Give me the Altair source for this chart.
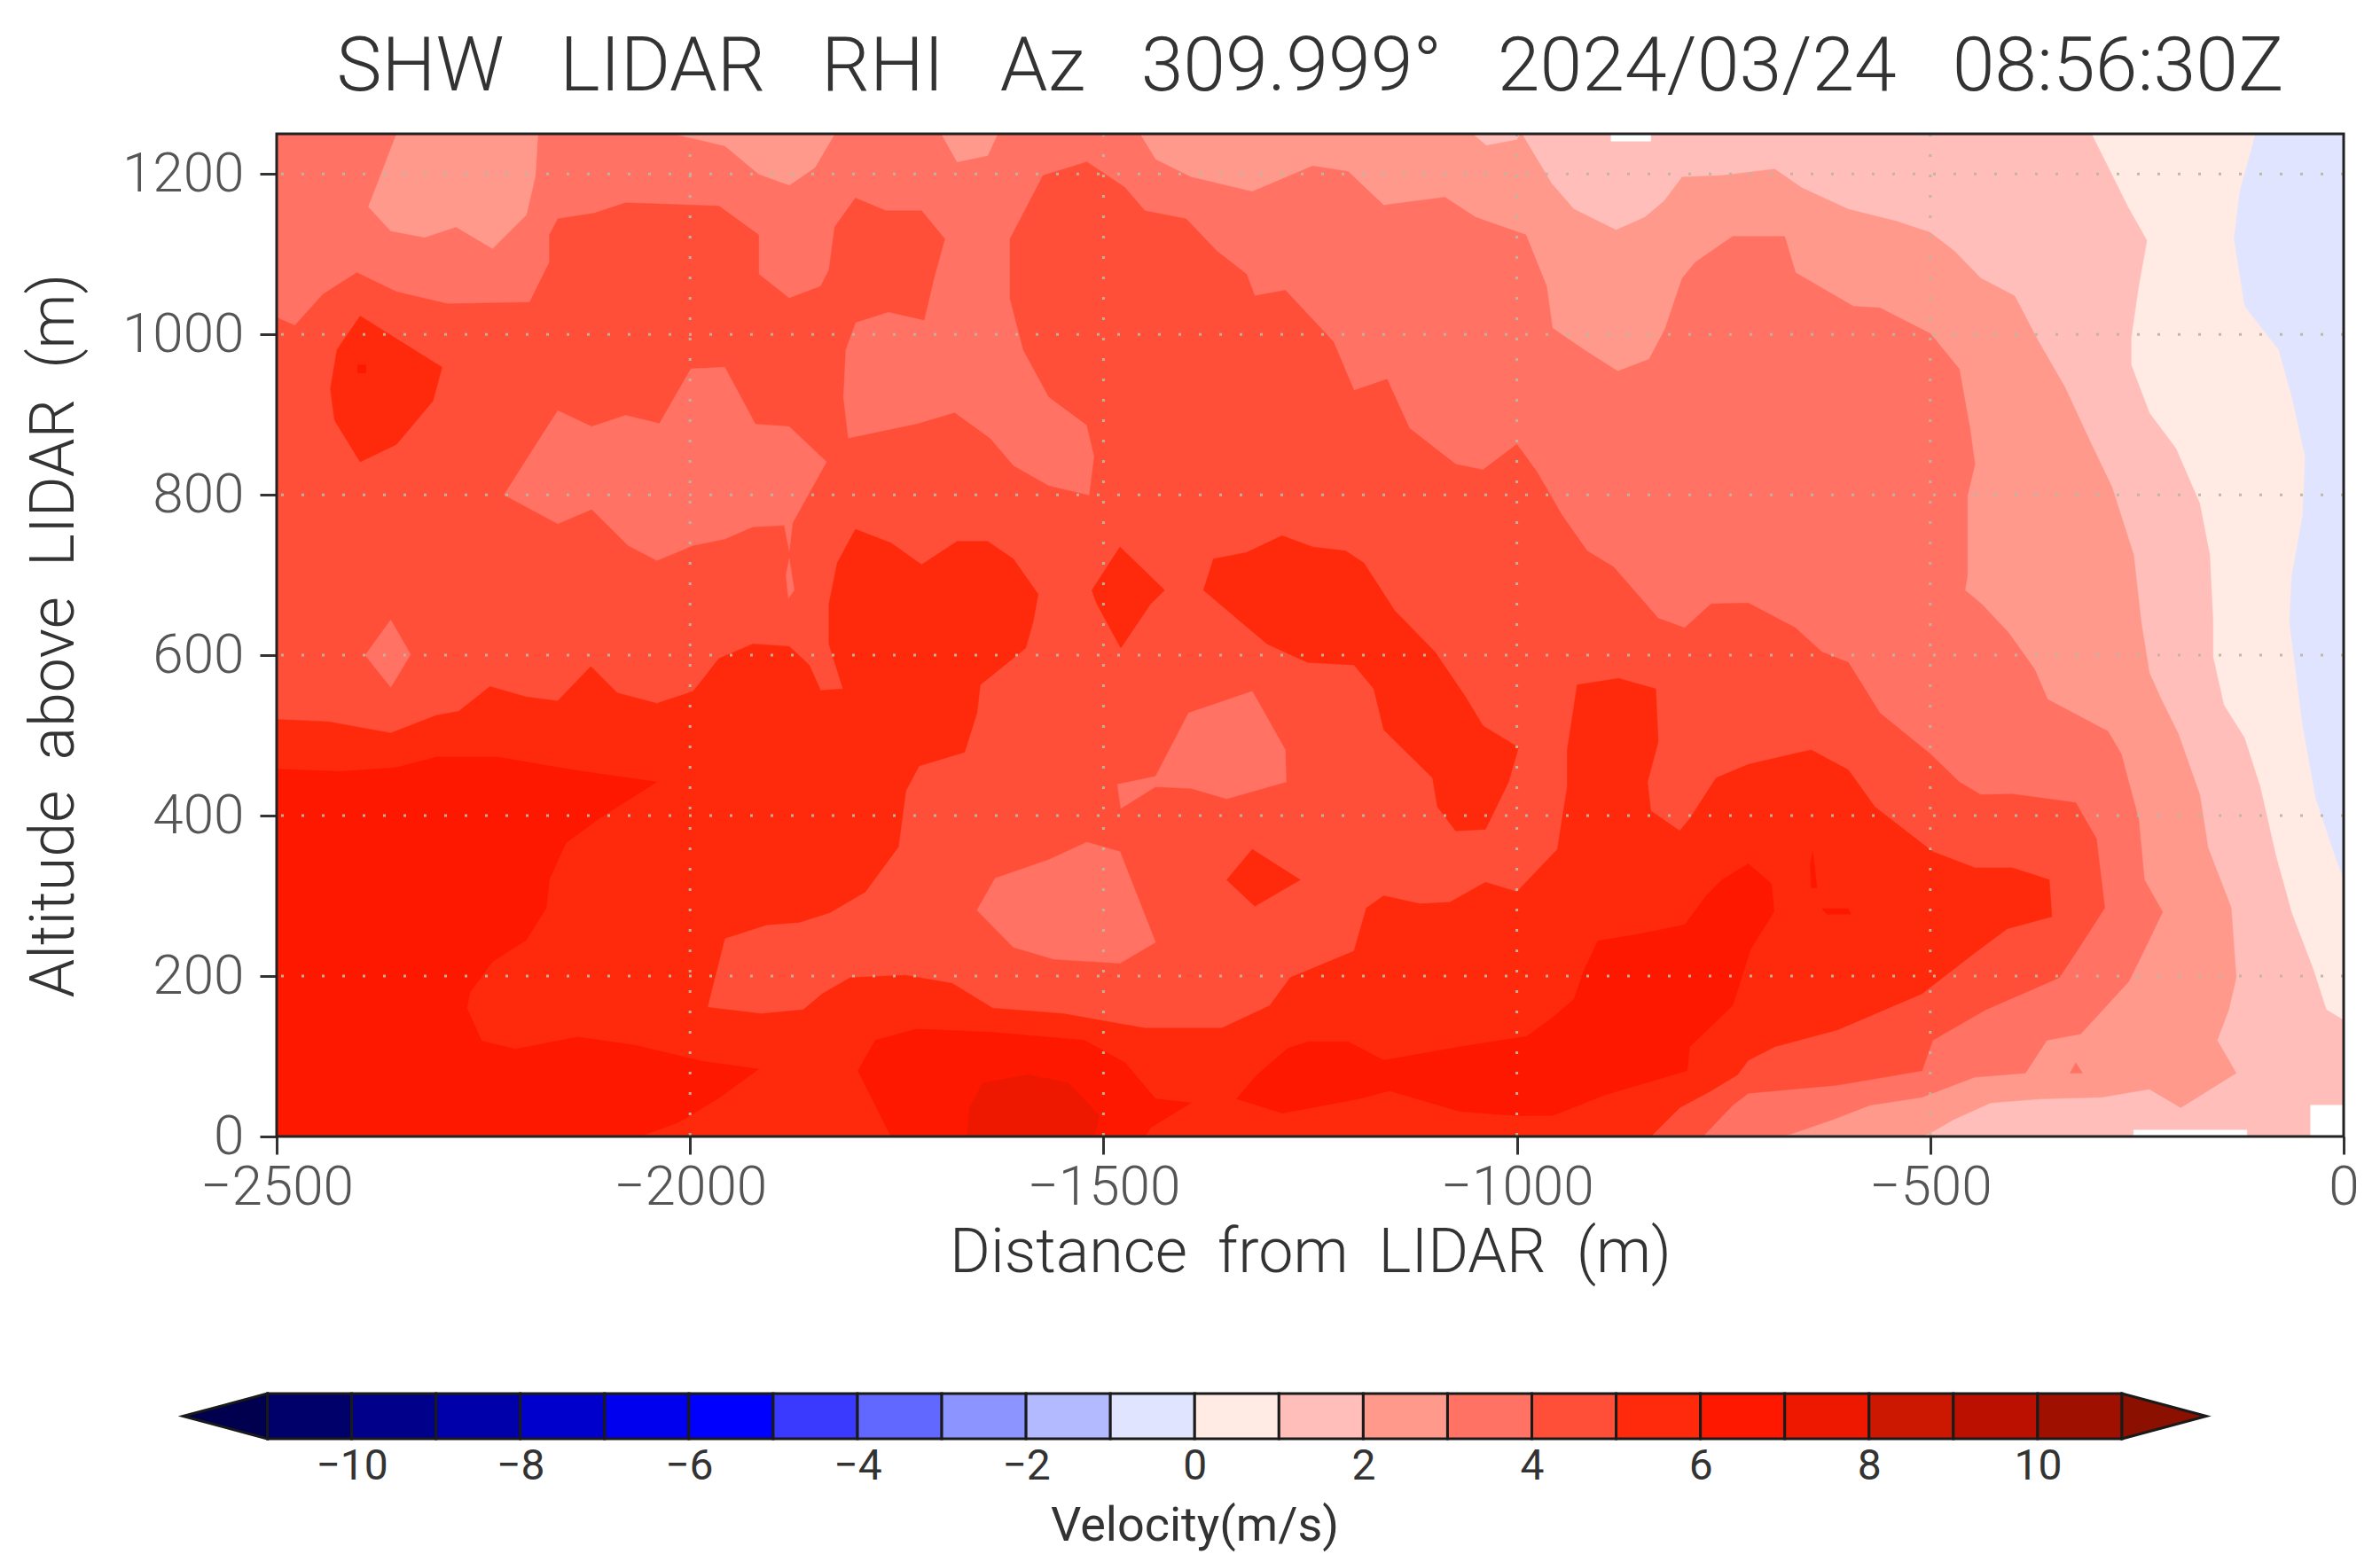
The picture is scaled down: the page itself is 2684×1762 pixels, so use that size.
import altair as alt
import pandas as pd

GAP = "\u00a0 \u00a0"
TITLE = GAP.join(["SHW", "LIDAR", "RHI", "Az", "309.999\u00b0", "2024/03/24", "08:56:30Z"])
X_TITLE = "\u00a0 ".join(["Distance", "from", "LIDAR", "(m)"])
Y_TITLE = "\u00a0 ".join(["Altitude", "above", "LIDAR", "(m)"])
FONT = "Roboto"
TEXT_DARK = "#333333"
TEXT_MID = "#555555"

# colour for each 1 m/s class, from -11..-10 to 10..11
BAND_COLORS = ["#00006A", "#00008A", "#0000AA", "#0000CC", "#0000EE", "#0000FF",
               "#3A3AFF", "#6068FF", "#8C94FF", "#B4BAFF", "#E0E4FF",
               "#FFEBE4", "#FFBEB9", "#FF998C", "#FF7264", "#FF4F38",
               "#FF2A0C", "#FF1800", "#EE1800", "#CC1800", "#BB1000", "#A01000"]
BAND_STARTS = list(range(-11, 11))
ARROW_LEFT = [(-12, 0.5), (-11, 1), (-11, 0)]
ARROW_RIGHT = [(12, 0.5), (11, 1), (11, 0)]
C_N1, C_0, C_1, C_2, C_3, C_4, C_5, C_6, C_7 = ("#E0E4FF", "#FFEBE4", "#FFBEB9", "#FF998C",
                                               "#FF7264", "#FF4F38", "#FF2A0C", "#FF1800", "#EE1800")

# contour outlines as (distance m, altitude m)
FULL = [(-2500, 0), (0, 0), (0, 1250), (-2500, 1250)]
V0 = [(-107, 1250), (-126, 1178), (-133, 1119), (-120, 1035), (-79, 981), (-63, 922), (-47, 848),
      (-50, 774), (-63, 700), (-66, 642), (-50, 512), (-34, 421), (-11, 350), (0, 320), (0, 0),
      (-2500, 0), (-2500, 1250)]
V1 = [(-305, 1250), (-261, 1159), (-238, 1117), (-248, 1060), (-257, 996), (-257, 962), (-235, 902),
      (-203, 858), (-174, 789), (-162, 725), (-158, 642), (-158, 598), (-145, 538), (-120, 497),
      (-101, 436), (-82, 350), (-63, 279), (-37, 209), (-21, 158), (0, 145), (0, 0), (-2500, 0),
      (-2500, 1250)]
V2 = [(-994, 1250), (-958, 1188), (-931, 1156), (-880, 1130), (-845, 1146), (-822, 1166), (-800, 1196),
      (-752, 1198), (-688, 1206), (-656, 1183), (-599, 1156), (-541, 1141), (-500, 1127), (-471, 1104),
      (-439, 1070), (-398, 1048), (-369, 991), (-337, 934), (-312, 878), (-280, 809), (-254, 725),
      (-245, 642), (-235, 578), (-222, 548), (-200, 502), (-174, 426), (-164, 360), (-136, 285),
      (-130, 198), (-139, 158), (-153, 120), (-130, 79), (-197, 36), (-235, 59), (-293, 49), (-366, 47),
      (-427, 42), (-472, 21), (-497, 6), (-510, 0), (-2500, 0), (-2500, 1250)]
V2_TOP_SPOT = [(-1053, 1250), (-1037, 1236), (-1000, 1243), (-996, 1250)]
V3 = [(-1456, 1250), (-1437, 1218), (-1394, 1196), (-1320, 1178), (-1247, 1210), (-1204, 1203),
      (-1161, 1161), (-1087, 1171), (-1050, 1146), (-989, 1124), (-964, 1060), (-957, 1008), (-919, 981),
      (-878, 954), (-840, 969), (-821, 1006), (-800, 1070), (-784, 1090), (-739, 1122), (-676, 1122),
      (-663, 1077), (-593, 1035), (-561, 1033), (-500, 1001), (-465, 957), (-452, 883), (-446, 838),
      (-455, 799), (-455, 700), (-458, 681), (-438, 664), (-406, 629), (-374, 583), (-358, 545),
      (-285, 505), (-269, 477), (-248, 396), (-241, 320), (-219, 280), (-238, 239), (-260, 193),
      (-318, 128), (-359, 120), (-385, 79), (-446, 74), (-510, 49), (-573, 39), (-618, 21), (-669, 3),
      (-680, 0), (-2500, 0), (-2500, 1250)]
V3_SPECK = [(-331, 79), (-324, 92), (-316, 79)]
ISLE2_A = [(-2355, 1250), (-2389, 1159), (-2362, 1129), (-2321, 1121), (-2283, 1134), (-2239, 1107),
           (-2198, 1149), (-2187, 1198), (-2184, 1250)]
ISLE2_B = [(-2020, 1250), (-1958, 1235), (-1917, 1200), (-1880, 1186), (-1849, 1208), (-1825, 1250)]
ISLE2_C = [(-1696, 1250), (-1677, 1215), (-1640, 1223), (-1628, 1250)]
V4 = [(-2500, 1021), (-2478, 1011), (-2444, 1050), (-2403, 1077), (-2355, 1053), (-2293, 1038),
      (-2194, 1040), (-2170, 1090), (-2170, 1124), (-2160, 1144), (-2116, 1151), (-2078, 1164),
      (-1965, 1160), (-1917, 1124), (-1917, 1075), (-1880, 1045), (-1842, 1060), (-1832, 1080),
      (-1825, 1134), (-1800, 1170), (-1763, 1154), (-1720, 1154), (-1692, 1119), (-1705, 1070),
      (-1717, 1018), (-1760, 1028), (-1800, 1015), (-1812, 981), (-1815, 922), (-1809, 870), (-1726, 888),
      (-1680, 902), (-1637, 870), (-1609, 836), (-1566, 811), (-1517, 799), (-1511, 848), (-1520, 887),
      (-1566, 922), (-1597, 981), (-1613, 1045), (-1613, 1119), (-1573, 1198), (-1520, 1215),
      (-1474, 1183), (-1450, 1154), (-1400, 1144), (-1363, 1104), (-1327, 1075), (-1317, 1048),
      (-1280, 1055), (-1222, 991), (-1197, 930), (-1157, 944), (-1130, 883), (-1074, 838), (-1041, 831),
      (-1000, 863), (-976, 829), (-945, 774), (-915, 730), (-883, 710), (-829, 646), (-797, 634),
      (-765, 664), (-720, 665), (-663, 634), (-631, 604), (-599, 591), (-561, 528), (-500, 477),
      (-465, 442), (-439, 426), (-401, 427), (-324, 416), (-299, 371), (-289, 285), (-324, 229),
      (-344, 198), (-433, 158), (-497, 120), (-510, 82), (-612, 64), (-720, 54), (-739, 39), (-775, 0),
      (-2500, 0)]
ISLE3_A = [(-2225, 800), (-2160, 905), (-2119, 885), (-2078, 899), (-2037, 889), (-1999, 957), (-1958, 959),
           (-1921, 888), (-1880, 885), (-1835, 841), (-1876, 765), (-1880, 730), (-1886, 762), (-1924, 760),
           (-1958, 745), (-1996, 737), (-2040, 718), (-2075, 737), (-2119, 782), (-2160, 764)]
ISLE3_SLIVER = [(-1884, 700), (-1880, 720), (-1874, 681), (-1881, 671)]
ISLE3_DIAMOND = [(-2393, 600), (-2362, 644), (-2338, 601), (-2362, 560)]
ISLE3_C = [(-1653, 282), (-1631, 322), (-1566, 345), (-1520, 367), (-1480, 355), (-1437, 242), (-1480, 216),
           (-1560, 221), (-1609, 236)]
ISLE3_D = [(-1483, 439), (-1437, 449), (-1397, 528), (-1320, 555), (-1280, 482), (-1279, 442), (-1351, 421),
           (-1394, 434), (-1437, 436), (-1479, 409)]
V5 = [(-2500, 520), (-2437, 517), (-2362, 503), (-2307, 525), (-2280, 530), (-2242, 561), (-2198, 548),
      (-2160, 543), (-2120, 586), (-2088, 553), (-2040, 540), (-1996, 555), (-1965, 596), (-1924, 614),
      (-1880, 611), (-1856, 588), (-1842, 556), (-1815, 558), (-1832, 614), (-1832, 664), (-1822, 715),
      (-1800, 757), (-1757, 740), (-1720, 713), (-1677, 742), (-1640, 742), (-1609, 720), (-1579, 676),
      (-1585, 642), (-1594, 609), (-1649, 563), (-1653, 528), (-1668, 479), (-1723, 462), (-1739, 431),
      (-1748, 361), (-1788, 305), (-1831, 279), (-1868, 267), (-1907, 264), (-1958, 247), (-1979, 161),
      (-1914, 153), (-1863, 158), (-1840, 178), (-1806, 198), (-1739, 201), (-1683, 191), (-1634, 160),
      (-1548, 153), (-1450, 135), (-1357, 135), (-1299, 163), (-1274, 198), (-1197, 231), (-1182, 285),
      (-1161, 300), (-1117, 290), (-1081, 292), (-1038, 317), (-1000, 305), (-951, 358), (-939, 436),
      (-939, 482), (-927, 563), (-877, 571), (-832, 558), (-829, 492), (-842, 442), (-838, 406), (-803, 381),
      (-791, 396), (-759, 447), (-720, 464), (-644, 482), (-599, 457), (-567, 411), (-497, 355), (-446, 335),
      (-401, 335), (-356, 320), (-353, 274), (-407, 259), (-446, 229), (-510, 178), (-612, 133), (-688, 112),
      (-720, 95), (-733, 77), (-765, 57), (-803, 36), (-838, 0), (-2500, 0)]
ISLE5_SPOT = [(-2399, 1023), (-2300, 959), (-2311, 917), (-2355, 863), (-2399, 841), (-2430, 893), (-2435, 932),
              (-2427, 981)]
ISLE5_RIDGE = [(-1379, 681), (-1367, 720), (-1327, 728), (-1284, 749), (-1247, 735), (-1207, 730), (-1185, 715),
               (-1148, 656), (-1099, 604), (-1062, 548), (-1041, 512), (-998, 485), (-1010, 442), (-1038, 383),
               (-1074, 381), (-1096, 411), (-1102, 447), (-1161, 507), (-1173, 558), (-1197, 588), (-1253, 591),
               (-1302, 614)]
ISLE5_DIAMOND = [(-1514, 681), (-1480, 735), (-1450, 705), (-1426, 681), (-1443, 664), (-1479, 609), (-1508, 664)]
ISLE5_SQUARE = [(-1351, 320), (-1320, 358), (-1262, 320), (-1317, 287)]
V6_LEFT = [(-2500, 458), (-2423, 455), (-2355, 460), (-2307, 473), (-2232, 473), (-2177, 463), (-2129, 455),
           (-2040, 442), (-2109, 397), (-2150, 366), (-2170, 321), (-2174, 285), (-2198, 245), (-2239, 218),
           (-2266, 180), (-2270, 160), (-2252, 119), (-2211, 109), (-2136, 124), (-2068, 114), (-1986, 94),
           (-1917, 84), (-1965, 48), (-2013, 18), (-2061, 0), (-2500, 0)]
V6_MID = [(-1757, 0), (-1797, 82), (-1776, 120), (-1726, 134), (-1634, 130), (-1523, 120), (-1474, 92),
          (-1437, 47), (-1394, 42), (-1443, 11), (-1450, 0)]
V6_RIGHT = [(-1339, 47), (-1314, 77), (-1277, 110), (-1253, 118), (-1204, 118), (-1161, 95), (-1068, 112),
            (-988, 125), (-957, 148), (-931, 171), (-918, 209), (-902, 244), (-854, 252), (-797, 264), (-771, 300),
            (-752, 320), (-720, 340), (-692, 315), (-689, 280), (-717, 234), (-739, 163), (-791, 112), (-794, 82),
            (-893, 52), (-957, 26), (-1000, 26), (-1068, 31), (-1154, 57), (-1191, 47), (-1284, 29)]
V6_SPECK_A = [(-645, 340), (-642, 355), (-637, 310), (-644, 310)]
V6_SPECK_B = [(-631, 284), (-599, 284), (-596, 277), (-625, 277)]
V6_SPECK_C = [(-2402, 962), (-2392, 962), (-2392, 952), (-2402, 952)]
V7 = [(-1662, 36), (-1646, 67), (-1591, 77), (-1542, 67), (-1505, 26), (-1511, 0), (-1665, 0)]
MISSING_CORNER = [(-40, 0), (0, 0), (0, 39), (-40, 39)]
MISSING_BOTTOM = [(-254, 0), (-117, 0), (-117, 8), (-254, 8)]
MISSING_TOP = [(-886, 1250), (-838, 1250), (-838, 1241), (-886, 1241)]

REGIONS = [(C_N1, FULL), (C_0, V0), (C_1, V1), (C_2, V2), (C_1, V2_TOP_SPOT), (C_3, V3), (C_2, ISLE2_A),
           (C_2, ISLE2_B), (C_2, ISLE2_C), (C_4, V4), (C_3, ISLE3_A), (C_3, ISLE3_SLIVER), (C_3, ISLE3_DIAMOND),
           (C_3, ISLE3_C), (C_3, ISLE3_D), (C_3, V3_SPECK), (C_5, V5), (C_5, ISLE5_SPOT), (C_5, ISLE5_RIDGE),
           (C_5, ISLE5_DIAMOND), (C_5, ISLE5_SQUARE), (C_6, V6_LEFT), (C_6, V6_MID), (C_6, V6_RIGHT),
           (C_6, V6_SPECK_A), (C_6, V6_SPECK_B), (C_6, V6_SPECK_C), (C_7, V7),
           ("#FFFFFF", MISSING_CORNER), ("#FFFFFF", MISSING_BOTTOM), ("#FFFFFF", MISSING_TOP)]

X_TICKS = [-2500, -2000, -1500, -1000, -500, 0]
Y_TICKS = [0, 200, 400, 600, 800, 1000, 1200]
X_GRID = [-2000, -1500, -1000, -500]
Y_GRID = [200, 400, 600, 800, 1000, 1200]
CB_TICKS = [-10, -8, -6, -4, -2, 0, 2, 4, 6, 8, 10]

x_scale = alt.Scale(domain=[-2500, 0], nice=False, zero=False)
y_scale = alt.Scale(domain=[0, 1250], nice=False, zero=False)

x_axis = alt.Axis(
    values=X_TICKS, format="d", title=X_TITLE, grid=False, tickSize=20, tickWidth=3, tickColor="#333333",
    domain=False, labelFontSize=62, labelColor=TEXT_MID, labelFont=FONT, labelFontWeight=300,
    labelPadding=7, labelFlush=False, labelOverlap=False, labelBound=False, titleFont=FONT,
    titleFontSize=70, titleFontWeight=300, titleColor=TEXT_DARK, titlePadding=9)
y_axis = alt.Axis(
    values=Y_TICKS, format="d", title=Y_TITLE, grid=False, tickSize=19, tickWidth=3, tickColor="#333333",
    domain=False, labelFontSize=62, labelColor=TEXT_MID, labelFont=FONT, labelFontWeight=300,
    labelPadding=18, labelFlush=False, labelOverlap=False, labelBound=False, titleFont=FONT,
    titleFontSize=70, titleFontWeight=300, titleColor=TEXT_DARK, titlePadding=40)


def region_layer(color, pts):
    frame = pd.DataFrame({"d": [p[0] for p in pts], "a": [p[1] for p in pts], "i": list(range(len(pts)))})
    return alt.Chart(frame).mark_line(
        filled=True, fill=color, stroke=color, strokeWidth=0.5, interpolate="linear-closed", clip=True
    ).encode(
        x=alt.X("d:Q", scale=x_scale, axis=x_axis),
        y=alt.Y("a:Q", scale=y_scale, axis=y_axis),
        order="i:Q",
    )


GRID_STYLE = dict(color="#BDB5A0", strokeWidth=3, strokeDash=[3, 20], opacity=0.95)
v_grid = alt.Chart(pd.DataFrame({"d": X_GRID})).mark_rule(**GRID_STYLE).encode(
    x=alt.X("d:Q", scale=x_scale, axis=x_axis))
h_grid = alt.Chart(pd.DataFrame({"a": Y_GRID})).mark_rule(**GRID_STYLE).encode(
    y=alt.Y("a:Q", scale=y_scale, axis=y_axis))

frame_df = pd.DataFrame({"x0": [-2500], "x1": [0], "y0": [0], "y1": [1250]})
frame_layer = alt.Chart(frame_df).mark_rect(filled=False, stroke="#222222", strokeWidth=3).encode(
    x=alt.X("x0:Q", scale=x_scale, axis=x_axis),
    x2="x1:Q",
    y=alt.Y("y0:Q", scale=y_scale, axis=y_axis),
    y2="y1:Q",
)

main = alt.layer(*[region_layer(c, p) for c, p in REGIONS], v_grid, h_grid, frame_layer).properties(
    width=2331, height=1131,
    title=alt.TitleParams(TITLE, font=FONT, fontSize=86, fontWeight=300, color=TEXT_DARK, anchor="middle", offset=30),
)

cb_x = alt.Scale(domain=[-10.89, 13.63], nice=False, zero=False)
cb_y = alt.Scale(domain=[0, 1], nice=False, zero=False)
cb_axis = alt.Axis(
    values=CB_TICKS, format="d", title="Velocity(m/s)", ticks=False, domain=False, grid=False,
    labelFont=FONT, labelFontSize=48, labelColor=TEXT_DARK, labelPadding=7, labelFlush=False,
    labelOverlap=False, labelBound=False, titleFont=FONT, titleFontSize=54, titleFontWeight=400,
    titleColor=TEXT_DARK, titleX=1035, titlePadding=16)
band_df = pd.DataFrame({"s": BAND_STARTS, "e": [b + 1 for b in BAND_STARTS], "y0": 0, "y1": 1, "c": BAND_COLORS})
bands = alt.Chart(band_df).mark_rect(stroke="#1A1A1A", strokeWidth=3).encode(
    x=alt.X("s:Q", scale=cb_x, axis=cb_axis),
    x2="e:Q",
    y=alt.Y("y0:Q", scale=cb_y, axis=None),
    y2="y1:Q",
    fill=alt.Fill("c:N", scale=None, legend=None),
)


def arrow(pts, color):
    frame = pd.DataFrame({"v": [p[0] for p in pts], "h": [p[1] for p in pts], "i": list(range(len(pts)))})
    return alt.Chart(frame).mark_line(
        filled=True, fill=color, stroke="#1A1A1A", strokeWidth=3, interpolate="linear-closed", clip=False
    ).encode(
        x=alt.X("v:Q", scale=cb_x, axis=cb_axis),
        y=alt.Y("h:Q", scale=cb_y, axis=None),
        order="i:Q",
    )


colorbar = alt.layer(bands, arrow(ARROW_LEFT, "#00004F"), arrow(ARROW_RIGHT, "#8B1000")).properties(width=2331, height=51)

chart = alt.vconcat(main, colorbar, spacing=118).properties(
    padding={"left": 18, "top": 24, "right": 5, "bottom": 5}, background="#FFFFFF"
).configure_view(strokeWidth=0)

chart.save("out.html", embed_options={"renderer": "svg", "actions": False})
